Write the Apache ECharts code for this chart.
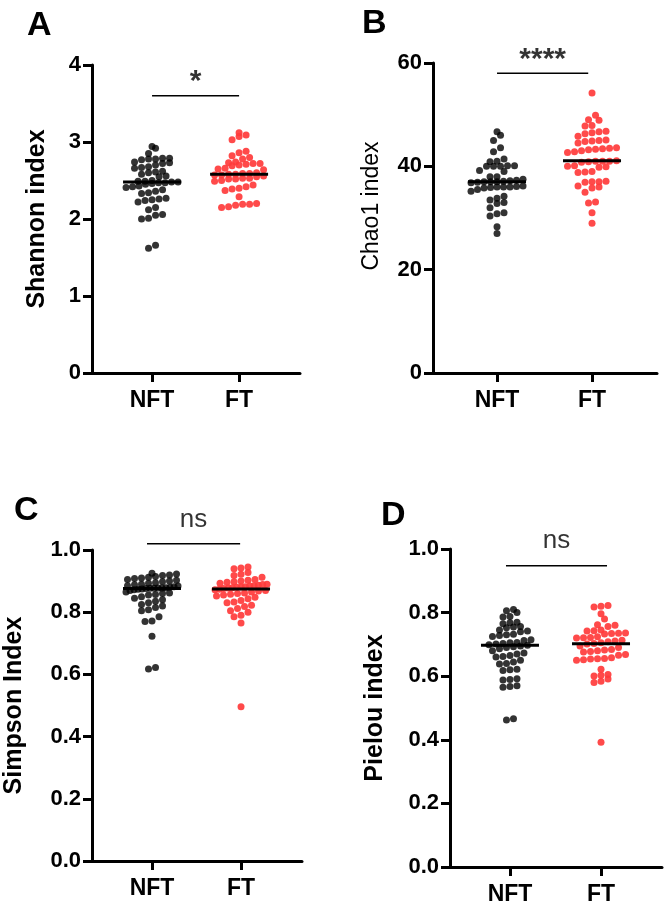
<!DOCTYPE html>
<html>
<head>
<meta charset="utf-8">
<title>Alpha diversity</title>
<script src="https://cdn.jsdelivr.net/npm/echarts@6/dist/echarts.min.js"></script>
<style>
  html, body { margin: 0; padding: 0; background: #fff; }
  #chart { width: 670px; height: 914px; }
</style>
</head>
<body>
<div id="chart"></div>
<script>
// groups on the x axis
var groups = ['NFT', 'FT'];

// values, one array per group and panel
var nftShannon = [2.94, 2.92, 2.85, 2.79, 2.79, 2.78, 2.78, 2.77, 2.74, 2.73, 2.72, 2.70, 2.68, 2.67, 2.66, 2.62, 2.61, 2.60, 2.58, 2.56,
  2.55, 2.50, 2.49, 2.49, 2.48, 2.48, 2.47, 2.47, 2.46, 2.45, 2.43, 2.42, 2.41, 2.38, 2.36, 2.34, 2.33, 2.27, 2.26, 2.25,
  2.24, 2.22, 2.15, 2.12, 2.06, 2.05, 2.01, 2.00, 1.66, 1.62];
var ftShannon = [3.12, 3.09, 3.07, 3.03, 2.88, 2.86, 2.82, 2.80, 2.78, 2.74, 2.73, 2.72, 2.72, 2.71, 2.70, 2.69, 2.66, 2.65, 2.64, 2.60,
  2.59, 2.59, 2.58, 2.58, 2.57, 2.57, 2.56, 2.55, 2.53, 2.53, 2.52, 2.52, 2.50, 2.49, 2.44, 2.42, 2.40, 2.39, 2.37, 2.29,
  2.20, 2.19, 2.19, 2.18, 2.16, 2.15];

var nftChao1 = [46.7, 46.0, 45.0, 43.6, 42.8, 41.4, 41.0, 40.9, 40.1, 40.1, 40.0, 40.0, 40.0, 39.2, 39.0, 38.0, 38.0, 37.5, 37.3, 37.2,
  37.1, 37.0, 37.0, 37.0, 36.9, 36.8, 36.2, 36.1, 36.0, 36.0, 36.0, 35.9, 35.8, 35.5, 35.2, 34.2, 33.8, 33.5, 33.0, 32.8,
  32.0, 31.0, 30.8, 30.4, 28.3, 27.0];
var ftChao1 = [54.2, 49.9, 49.0, 48.9, 47.9, 47.8, 46.8, 46.7, 46.5, 46.3, 45.8, 45.1, 45.0, 44.9, 44.8, 44.5, 43.6, 43.5, 43.4, 43.3,
  43.2, 43.0, 42.8, 42.7, 41.1, 41.0, 41.0, 41.0, 40.9, 40.8, 40.1, 40.0, 39.9, 39.8, 39.0, 38.9, 38.8, 37.1, 37.0, 37.0,
  36.9, 36.2, 36.0, 35.8, 35.0, 33.1, 32.9, 31.0, 29.0];

var nftSimpson = [0.925, 0.923, 0.920, 0.918, 0.915, 0.912, 0.910, 0.908, 0.905, 0.903, 0.900, 0.898, 0.895, 0.893, 0.890, 0.888,
  0.885, 0.884, 0.882, 0.880, 0.879, 0.878, 0.878, 0.877, 0.877, 0.876, 0.875, 0.874, 0.872, 0.870, 0.865, 0.862, 0.860,
  0.857, 0.855, 0.850, 0.845, 0.840, 0.835, 0.830, 0.825, 0.820, 0.815, 0.808, 0.805, 0.785, 0.772, 0.770, 0.723, 0.622, 0.617];
var ftSimpson = [0.945, 0.942, 0.940, 0.928, 0.922, 0.918, 0.912, 0.905, 0.903, 0.900, 0.898, 0.896, 0.893, 0.890, 0.889, 0.887,
  0.885, 0.884, 0.882, 0.881, 0.880, 0.879, 0.878, 0.876, 0.874, 0.872, 0.870, 0.868, 0.865, 0.862, 0.860, 0.858, 0.855,
  0.852, 0.848, 0.843, 0.838, 0.833, 0.830, 0.822, 0.818, 0.812, 0.805, 0.800, 0.790, 0.785, 0.765, 0.496];

var nftPielou = [0.810, 0.806, 0.800, 0.788, 0.786, 0.770, 0.768, 0.765, 0.756, 0.755, 0.752, 0.745, 0.742, 0.740, 0.732, 0.730,
  0.728, 0.725, 0.715, 0.712, 0.706, 0.705, 0.703, 0.701, 0.699, 0.697, 0.695, 0.693, 0.690, 0.686, 0.680, 0.673, 0.670,
  0.665, 0.662, 0.660, 0.650, 0.645, 0.640, 0.638, 0.622, 0.620, 0.618, 0.592, 0.590, 0.588, 0.570, 0.568, 0.565, 0.466, 0.462];
var ftPielou = [0.822, 0.820, 0.818, 0.796, 0.780, 0.762, 0.760, 0.756, 0.745, 0.743, 0.742, 0.736, 0.735, 0.734, 0.733, 0.724,
  0.722, 0.721, 0.720, 0.713, 0.711, 0.708, 0.705, 0.703, 0.701, 0.695, 0.690, 0.684, 0.682, 0.680, 0.678, 0.676, 0.668,
  0.666, 0.658, 0.656, 0.655, 0.654, 0.652, 0.650, 0.622, 0.605, 0.603, 0.601, 0.591, 0.584, 0.580, 0.392];

// y axis ticks per panel
var shannonTicks = [0, 1, 2, 3, 4];
var chao1Ticks = [0, 20, 40, 60];
var simpsonTicks = [0, 0.2, 0.4, 0.6, 0.8, 1.0];
var pielouTicks = [0, 0.2, 0.4, 0.6, 0.8, 1.0];

// significance labels and bar heights
var sigText = ['*', '****', 'ns', 'ns'];
var sigBarY = [3.6, 58, 1.02, 0.947];
var sigTextY = [3.78, 60.6, 1.096, 1.025];

var FONT = '"Liberation Sans", Arial, Helvetica, sans-serif';
var RED = '#ff3b3b';
var DOT = 7;
var ROW_H = 6;      // height of one swarm row, px
var MAX_W = 52;     // widest spread of dot centres in a row, px

// layout of the four panels
var panels = [
  { letter: 'A', lx: 27, ly: 9, grid: { left: 92, top: 65, width: 208, height: 308 }, xMin: -0.69, xMax: 1.70,
    ticks: shannonTicks, title: 'Shannon index', bold: true, gap: 42, pad: 0, nft: nftShannon, ft: ftShannon, dec: 0, sigX: [0, 1] },
  { letter: 'B', lx: 362, ly: 7, grid: { left: 433, top: 63, width: 224, height: 310 }, xMin: -0.674, xMax: 1.684,
    ticks: chao1Ticks, title: 'Chao1 index', bold: false, gap: 50, pad: 24, nft: nftChao1, ft: ftChao1, dec: 0, sigX: [0, 0.96] },
  { letter: 'C', lx: 14, ly: 494, grid: { left: 92, top: 550, width: 210, height: 311 }, xMin: -0.674, xMax: 1.685,
    ticks: simpsonTicks, title: 'Simpson Index', bold: true, gap: 65, pad: 0, nft: nftSimpson, ft: ftSimpson, dec: 1, sigX: [-0.056, 0.99] },
  { letter: 'D', lx: 381, ly: 499, grid: { left: 450, top: 549, width: 212, height: 318 }, xMin: -0.659, xMax: 1.67,
    ticks: pielouTicks, title: 'Pielou index', bold: true, gap: 62, pad: 0, nft: nftPielou, ft: ftPielou, dec: 1, sigX: [-0.044, 1.066] }
];

function median(arr) {
  var s = arr.slice().sort(function(a, b) { return a - b; });
  var m = Math.floor(s.length / 2);
  return s.length % 2 ? s[m] : (s[m - 1] + s[m]) / 2;
}

// row swarm like Prism: walk up the sorted values, open a new row when the
// value is more than ROW_H px above the row start, then spread each row evenly
function swarm(values, center, pxY, pxX) {
  var order = values.map(function(v, i) { return i; }).sort(function(a, b) { return values[a] - values[b]; });
  var rows = [], cur = null, start = 0;
  order.forEach(function(i) {
    var y = values[i] * pxY;
    if (!cur || y - start > ROW_H) {
      cur = [];
      rows.push(cur);
      start = y;
    }
    cur.push(i);
  });
  var out = [];
  rows.forEach(function(idx) {
    var n = idx.length;
    var step = n > 1 ? Math.min(DOT, MAX_W / (n - 1)) : 0;
    idx.forEach(function(i, j) {
      var off = (j - (n - 1) / 2) * step;
      out[i] = [center + off / pxX, values[i]];
    });
  });
  return out;
}

var grids = [], xAxes = [], yAxes = [], series = [], graphics = [];

panels.forEach(function(p, i) {
  var yMax = p.ticks[p.ticks.length - 1];
  var pxY = p.grid.height / yMax;
  var pxX = p.grid.width / (p.xMax - p.xMin);

  grids.push(p.grid);
  xAxes.push({
    type: 'value', gridIndex: i, min: p.xMin, max: p.xMax,
    axisLine: { onZero: false, lineStyle: { color: '#000', width: 3 } },
    axisTick: { customValues: [0, 1], length: 9, lineStyle: { color: '#000', width: 3 } },
    axisLabel: {
      customValues: [0, 1], margin: 16, color: '#000', fontFamily: FONT, fontWeight: 'bold', fontSize: 23,
      formatter: function(v) { return groups[Math.round(v)]; }
    },
    splitLine: { show: false }
  });
  yAxes.push({
    type: 'value', gridIndex: i, min: 0, max: yMax, interval: p.ticks[1] - p.ticks[0],
    name: p.title, nameLocation: 'middle', nameGap: p.gap,
    nameTextStyle: {
      color: '#000', fontFamily: FONT, fontWeight: p.bold ? 'bold' : 'normal', fontSize: p.bold ? 25 : 23,
      padding: [0, 0, 0, p.pad]
    },
    axisLine: { show: true, onZero: false, lineStyle: { color: '#000', width: 3 } },
    axisTick: { show: true, length: 9, lineStyle: { color: '#000', width: 3 } },
    axisLabel: {
      margin: 11, color: '#000', fontFamily: FONT, fontWeight: 'bold', fontSize: 22,
      formatter: function(v) { return v.toFixed(p.dec); }
    },
    splitLine: { show: false }
  });

  series.push({
    type: 'scatter', xAxisIndex: i, yAxisIndex: i, symbolSize: DOT, clip: false,
    itemStyle: { color: '#000' }, data: swarm(p.nft, 0, pxY, pxX), z: 2
  });
  series.push({
    type: 'scatter', xAxisIndex: i, yAxisIndex: i, symbolSize: DOT, clip: false,
    itemStyle: { color: RED, opacity: 0.92 }, data: swarm(p.ft, 1, pxY, pxX), z: 2
  });
  // median lines
  series.push({
    type: 'custom', xAxisIndex: i, yAxisIndex: i, z: 5, clip: false,
    data: [[0, median(p.nft)], [1, median(p.ft)]],
    renderItem: function(params, api) {
      var c = api.coord([api.value(0), api.value(1)]);
      return { type: 'line', shape: { x1: c[0] - 29, y1: c[1], x2: c[0] + 29, y2: c[1] },
        style: { stroke: '#000', lineWidth: 3 } };
    }
  });
  // significance bar
  series.push({
    type: 'line', xAxisIndex: i, yAxisIndex: i, clip: false, symbol: 'none', silent: true,
    lineStyle: { color: '#000', width: 1.5 },
    data: [[p.sigX[0], sigBarY[i]], [p.sigX[1], sigBarY[i]]]
  });
  // significance text
  series.push({
    type: 'scatter', xAxisIndex: i, yAxisIndex: i, clip: false, symbolSize: 1, silent: true,
    itemStyle: { color: 'rgba(0,0,0,0)' },
    label: {
      show: true, position: 'inside', formatter: sigText[i], color: '#000', fontFamily: FONT,
      fontSize: sigText[i] === 'ns' ? 26 : 30, fontWeight: sigText[i] === 'ns' ? 'normal' : 'bold'
    },
    data: [[(p.sigX[0] + p.sigX[1]) / 2, sigTextY[i]]]
  });

  graphics.push({
    type: 'text', left: p.lx, top: p.ly,
    style: { text: p.letter, fill: '#000', font: 'bold 34px ' + FONT }
  });
});

var chart = echarts.init(document.getElementById('chart'));
chart.setOption({
  backgroundColor: '#fff',
  animation: false,
  grid: grids,
  xAxis: xAxes,
  yAxis: yAxes,
  series: series,
  graphic: graphics
});
</script>
</body>
</html>
